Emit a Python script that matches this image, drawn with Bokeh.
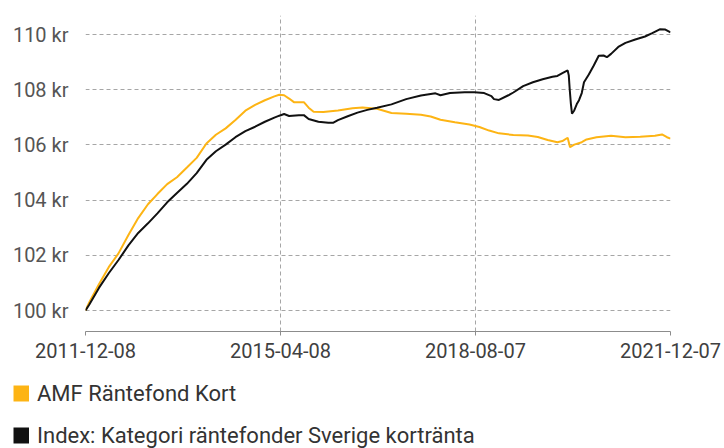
import pandas as pd
from bokeh.plotting import figure
from bokeh.layouts import column, row
from bokeh.models import (Range1d, FixedTicker, DatetimeTickFormatter, PrintfTickFormatter,
                          Legend, LegendItem)
from bokeh.embed import file_html
from bokeh.resources import INLINE

# ---- data ----
amf_dates = ["2011-12-08", "2012-01-01", "2012-03-01", "2012-05-01", "2012-07-01", "2012-09-01",
             "2012-11-01", "2013-01-01", "2013-03-01", "2013-05-01", "2013-07-01", "2013-09-01",
             "2013-11-01", "2014-01-01", "2014-03-01", "2014-05-01", "2014-07-01", "2014-09-01",
             "2014-11-01", "2015-01-01", "2015-03-01", "2015-04-01", "2015-05-01", "2015-06-01",
             "2015-07-01", "2015-09-01", "2015-10-01", "2015-11-01", "2016-01-01", "2016-04-01",
             "2016-07-01", "2016-09-01", "2016-12-01", "2017-03-01", "2017-06-01", "2017-09-01",
             "2017-11-01", "2018-01-01", "2018-04-01", "2018-07-01", "2018-09-01", "2018-11-01",
             "2019-01-01", "2019-04-01", "2019-07-01", "2019-09-01", "2019-11-01", "2020-01-01",
             "2020-02-01", "2020-03-05", "2020-03-20", "2020-04-15", "2020-06-01", "2020-07-01",
             "2020-09-01", "2020-12-01", "2021-03-01", "2021-06-01", "2021-09-01", "2021-10-15",
             "2021-11-15", "2021-12-07"]
amf_values = [100.0, 100.3, 100.95, 101.57, 102.07, 102.74,
              103.35, 103.85, 104.22, 104.58, 104.83, 105.18,
              105.53, 106.05, 106.37, 106.6, 106.9, 107.24,
              107.45, 107.62, 107.76, 107.82, 107.8, 107.68,
              107.55, 107.55, 107.35, 107.2, 107.19, 107.25,
              107.33, 107.36, 107.31, 107.16, 107.13, 107.09,
              107.03, 106.91, 106.82, 106.74, 106.65, 106.52,
              106.42, 106.36, 106.34, 106.29, 106.18, 106.1,
              106.14, 106.26, 105.92, 106.01, 106.1, 106.2,
              106.28, 106.33, 106.28, 106.3, 106.33, 106.38,
              106.28, 106.23]

idx_dates = ["2011-12-08", "2012-01-01", "2012-03-01", "2012-05-01", "2012-07-01", "2012-09-01",
             "2012-11-01", "2013-01-01", "2013-03-01", "2013-05-01", "2013-07-01", "2013-09-01",
             "2013-11-01", "2014-01-01", "2014-03-01", "2014-05-01", "2014-07-01", "2014-09-01",
             "2014-11-01", "2015-01-01", "2015-03-01", "2015-04-01", "2015-05-01", "2015-06-01",
             "2015-08-01", "2015-09-01", "2015-10-01", "2015-12-01", "2016-02-01", "2016-03-01",
             "2016-04-01", "2016-06-01", "2016-08-01", "2016-10-01", "2016-12-01", "2017-03-01",
             "2017-06-01", "2017-09-01", "2017-12-01", "2018-01-01", "2018-03-01", "2018-06-01",
             "2018-08-01", "2018-10-01", "2018-11-15", "2018-12-01", "2019-01-01", "2019-03-01",
             "2019-04-01", "2019-06-01", "2019-08-01", "2019-10-01", "2019-12-01", "2020-01-01",
             "2020-02-01", "2020-03-05", "2020-03-12", "2020-03-18", "2020-03-25", "2020-04-01",
             "2020-04-15", "2020-05-01", "2020-05-15", "2020-06-01", "2020-06-15", "2020-07-15",
             "2020-08-15", "2020-09-15", "2020-10-15", "2020-11-05", "2020-12-01", "2021-01-15",
             "2021-03-01", "2021-05-01", "2021-07-01", "2021-08-15", "2021-10-01", "2021-11-05",
             "2021-12-07"]
idx_values = [100.0, 100.22, 100.82, 101.35, 101.83, 102.36,
              102.81, 103.16, 103.52, 103.92, 104.26, 104.59,
              104.98, 105.46, 105.77, 106.01, 106.28, 106.5,
              106.66, 106.84, 106.99, 107.06, 107.12, 107.05,
              107.08, 107.08, 106.94, 106.84, 106.8, 106.8,
              106.9, 107.04, 107.17, 107.27, 107.35, 107.47,
              107.66, 107.79, 107.87, 107.8, 107.88, 107.91,
              107.91, 107.88, 107.77, 107.66, 107.63, 107.8,
              107.9, 108.13, 108.27, 108.38, 108.47, 108.5,
              108.6, 108.7, 108.52, 108.0, 107.5, 107.13,
              107.25, 107.48, 107.62, 107.88, 108.27, 108.55,
              108.88, 109.23, 109.24, 109.18, 109.3, 109.55,
              109.7, 109.82, 109.93, 110.05, 110.19, 110.18,
              110.08]

x_tick_labels = ["2011-12-08", "2015-04-08", "2018-08-07", "2021-12-07"]
y_ticks = [100, 102, 104, 106, 108, 110]
series_names = ["AMF Räntefond Kort", "Index: Kategori räntefonder Sverige kortränta"]
series_colors = ["#FDB414", "#111111"]

FONT = "Roboto"
tick_ms = [pd.Timestamp(d).value / 1e6 for d in x_tick_labels]
series = [(pd.to_datetime(amf_dates), amf_values), (pd.to_datetime(idx_dates), idx_values)]

p = figure(output_backend="svg", toolbar_location=None,
           frame_width=585, frame_height=316,
           min_border_left=85, min_border_right=54, min_border_top=15, min_border_bottom=41,
           x_axis_type="datetime",
           x_range=Range1d(pd.Timestamp(x_tick_labels[0]), pd.Timestamp(x_tick_labels[-1])),
           y_range=Range1d(99.24, 110.69))
p.outline_line_color = None
p.background_fill_color = "white"
p.border_fill_color = "white"

for (xs, ys), col in zip(series, series_colors):
    p.line(xs, ys, line_color=col, line_width=2)

# axes
fmt = "%Y-%m-%d"
xa = p.xaxis[0]
xa.ticker = FixedTicker(ticks=tick_ms)
xa.formatter = DatetimeTickFormatter(days=fmt, months=fmt, years=fmt, hours=fmt, minutes=fmt,
                                     seconds=fmt, milliseconds=fmt, microseconds=fmt,
                                     hourmin=fmt, minsec=fmt)
xa.axis_line_color = "#8c8c8c"
xa.axis_line_width = 1.2
xa.major_tick_line_color = "#8c8c8c"
xa.major_tick_out = 4
xa.major_tick_in = 0
xa.minor_tick_line_color = None
xa.major_label_standoff = 7
xa.major_label_text_font = FONT
xa.major_label_text_font_size = "20px"
xa.major_label_text_color = "#404040"

ya = p.yaxis[0]
ya.ticker = FixedTicker(ticks=y_ticks)
ya.formatter = PrintfTickFormatter(format="%d kr")
ya.axis_line_color = None
ya.major_tick_line_color = None
ya.minor_tick_line_color = None
ya.major_tick_out = 0
ya.major_tick_in = 0
ya.major_label_standoff = 17
ya.major_label_text_font = FONT
ya.major_label_text_font_size = "20px"
ya.major_label_text_color = "#555555"

# grids
p.xgrid.ticker = FixedTicker(ticks=tick_ms[:-1])
p.ygrid.ticker = FixedTicker(ticks=y_ticks)
for g in (p.xgrid[0], p.ygrid[0]):
    g.grid_line_color = "#a6a6a6"
    g.grid_line_dash = "4 3"
    g.grid_line_width = 1

# legend in its own strip below the chart (series drawn out of this strip's view,
# only their legend swatches show)
lg = figure(output_backend="svg", toolbar_location=None, width=724, height=76,
            min_border=0, x_axis_location=None, y_axis_location=None,
            x_range=Range1d(0, 1), y_range=Range1d(0, 1))
lg.outline_line_color = None
lg.grid.visible = False

items = []
for (xs, ys), name, col in zip(series, series_names, series_colors):
    r = lg.line(xs, ys, line_color=col, line_width=16, line_cap="butt")
    items.append(LegendItem(label=name, renderers=[r]))

leg = Legend(items=items, location=(13, -2), orientation="vertical",
             glyph_width=16, glyph_height=30, label_standoff=8, spacing=12,
             padding=0, margin=0, border_line_color=None, background_fill_alpha=0,
             label_text_font=FONT, label_text_font_size="22px", label_text_color="#333333")
lg.add_layout(leg, "center")

open("out.html", "w").write(file_html(column(p, row(lg), spacing=0), INLINE))
